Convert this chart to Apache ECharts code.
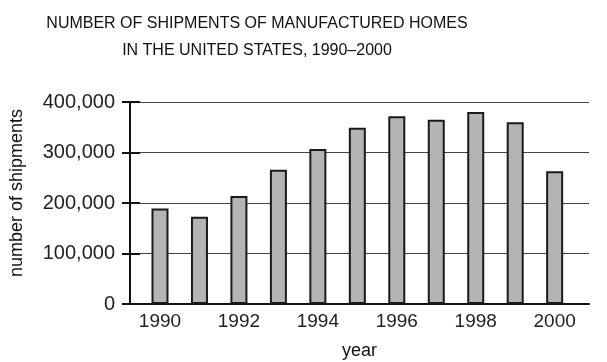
<!DOCTYPE html>
<html>
<head>
<meta charset="utf-8">
<script src="https://cdn.jsdelivr.net/npm/echarts@6/dist/echarts.min.js"></script>
<style>html,body{margin:0;padding:0;background:#fff;}#c{width:607px;height:362px;}</style>
</head>
<body>
<div id="c"></div>
<script>
const years = [1990, 1991, 1992, 1993, 1994, 1995, 1996, 1997, 1998, 1999, 2000];
const shipments = [189000, 173000, 214000, 266000, 307000, 349000, 372000, 365000, 380000, 360000, 263000];
const yTicks = [0, 100000, 200000, 300000, 400000];
const titleLines = ['NUMBER OF SHIPMENTS OF MANUFACTURED HOMES', 'IN THE UNITED STATES, 1990\u20132000'];

const chart = echarts.init(document.getElementById('c'), null, {renderer: 'canvas'});
const fmt = v => v.toLocaleString('en-US');
const font = 'Liberation Sans, Arial, sans-serif';
chart.setOption({
  animation: false,
  backgroundColor: '#fff',
  title: {
    text: titleLines.join('\n'),
    left: 252, top: 5, textAlign: 'center',
    textStyle: {fontFamily: 'Liberation Sans Narrow, Liberation Sans, sans-serif', fontSize: 16, fontWeight: 'normal', color: '#111', lineHeight: 27}
  },
  grid: {left: 130, right: 18, top: 102, bottom: 58, outerBoundsMode: 'none', containLabel: false},
  xAxis: {
    type: 'value', min: 1989.24, max: 2000.87,
    name: 'year', nameLocation: 'middle', nameGap: 38,
    nameTextStyle: {fontFamily: font, fontSize: 18, color: '#111'},
    axisLine: {show: true, onZero: false, lineStyle: {color: '#111', width: 2}},
    axisTick: {show: false},
    splitLine: {show: false},
    axisLabel: {
      showMinLabel: false, showMaxLabel: false, margin: 8,
      fontFamily: font, fontSize: 19, color: '#222',
      formatter: v => (Math.abs(v - Math.round(v)) < 1e-6 && Math.round(v) % 2 === 0) ? String(Math.round(v)) : ''
    }
  },
  yAxis: [{
    type: 'value', min: yTicks[0], max: yTicks[yTicks.length - 1], interval: yTicks[1] - yTicks[0],
    name: 'number of shipments', nameLocation: 'middle', nameRotate: 90, nameGap: 104,
    nameTextStyle: {fontFamily: font, fontSize: 18, color: '#111', padding: [0, 0, 0, 20]},
    axisLine: {show: true, lineStyle: {color: '#111', width: 2}},
    axisTick: {show: true, length: 8, lineStyle: {color: '#111', width: 2}},
    splitLine: {show: true, lineStyle: {color: '#444', width: 1}},
    axisLabel: {margin: 15, fontFamily: font, fontSize: 20, color: '#222', formatter: fmt}
  }, {
    type: 'value', min: yTicks[0], max: yTicks[yTicks.length - 1], interval: yTicks[1] - yTicks[0],
    position: 'left',
    axisLine: {show: false},
    axisTick: {show: true, inside: true, length: 10, lineStyle: {color: '#111', width: 2}},
    splitLine: {show: false},
    axisLabel: {show: false}
  }],
  series: [{
    type: 'bar',
    yAxisIndex: 0,
    barWidth: 17,
    data: years.map((y, i) => [y, shipments[i]]),
    itemStyle: {color: '#b4b4b4', borderColor: '#1a1a1a', borderWidth: 2}
  }]
});
</script>
</body>
</html>
